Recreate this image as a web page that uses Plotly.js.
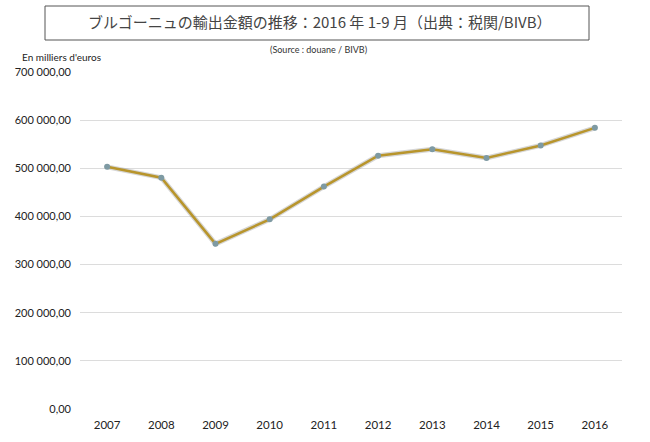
<!DOCTYPE html>
<html>
<head>
<meta charset="utf-8">
<script src="https://cdn.plot.ly/plotly-3.0.1.min.js"></script>
<style>html,body{margin:0;padding:0;background:#fff;}#chart{width:650px;height:442px;}</style>
</head>
<body>
<div id="chart"></div>
<script>
const years = ["2007","2008","2009","2010","2011","2012","2013","2014","2015","2016"];
const exportValues = [503000, 480500, 343000, 394000, 462000, 526000, 539500, 521500, 547500, 584000];
const yTickValues = [0, 100000, 200000, 300000, 400000, 500000, 600000, 700000];
const yTickLabels = ["0,00", "100 000,00", "200 000,00", "300 000,00", "400 000,00", "500 000,00", "600 000,00", "700 000,00"];
const titleText = "ブルゴーニュの輸出金額の推移：2016 年 1-9 月（出典：税関/BIVB）";
const sourceText = "(Source : douane / BIVB)";
const unitText = "En milliers d'euros";

const W = 650, H = 442;
const L = 80, R = 28, T = 72, B = 33;
const pw = W - L - R, ph = H - T - B;
const px = v => (v - L) / pw;
const py = v => (H - B - v) / ph;

const traces = [{
  x: years, y: exportValues, type: 'scatter', mode: 'lines',
  line: {color: 'rgba(120,120,120,0.3)', width: 5},
  hoverinfo: 'skip', showlegend: false
},{
  x: years, y: exportValues, type: 'scatter', mode: 'lines+markers',
  line: {color: '#B8952C', width: 2.5},
  marker: {color: '#7E9AA3', size: 6, line: {width: 0}},
  showlegend: false
}];

const layout = {
  width: W, height: H,
  margin: {l: L, r: R, t: T, b: B},
  paper_bgcolor: '#fff', plot_bgcolor: '#fff',
  font: {family: 'Lato, "Open Sans", sans-serif', color: '#222', size: 11},
  xaxis: {
    type: 'category', showgrid: false, zeroline: false, showline: false,
    ticks: '', ticklabelstandoff: 7, tickfont: {size: 11.5, color: '#222'}, range: [-0.5, 9.5], fixedrange: true
  },
  yaxis: {
    range: [0, 700000], tickvals: yTickValues, ticktext: yTickLabels,
    showgrid: true, gridcolor: '#dcdcdc', gridwidth: 1, zeroline: false,
    showline: false, ticks: '', ticklabelstandoff: 8,
    tickfont: {size: 11, color: '#222'}, fixedrange: true
  },
  shapes: [{
    type: 'rect', xref: 'paper', yref: 'paper',
    x0: px(45), x1: px(589), y0: py(40), y1: py(6),
    line: {color: '#555', width: 1}, fillcolor: '#fff', layer: 'above'
  }],
  annotations: [{
    text: unitText, xref: 'paper', yref: 'paper', x: px(20), y: py(57),
    xanchor: 'left', yanchor: 'middle', showarrow: false,
    font: {size: 10, color: '#222', family: 'Lato, sans-serif'}
  },{
    text: sourceText, xref: 'paper', yref: 'paper', x: px(318), y: py(50),
    xanchor: 'center', yanchor: 'middle', showarrow: false,
    font: {size: 9, color: '#333', family: 'Lato, sans-serif'}
  },{
    text: titleText, xref: 'paper', yref: 'paper', x: px(320), y: py(22),
    xanchor: 'center', yanchor: 'middle', showarrow: false,
    font: {size: 15, color: '#444', family: '"Noto Sans CJK JP", sans-serif'}
  }]
};

Plotly.newPlot('chart', traces, layout, {displayModeBar: false, staticPlot: true});
</script>
</body>
</html>
